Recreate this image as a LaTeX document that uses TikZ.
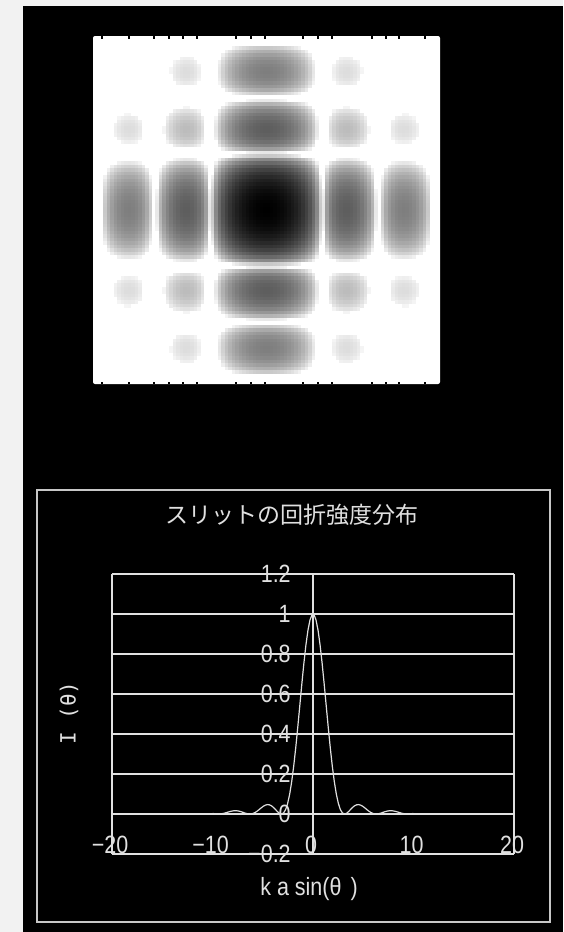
\documentclass[tikz,border=0pt]{standalone}
\usepackage{fontspec}
\newfontfamily\jpfont{Noto Sans CJK JP}
\newfontfamily\numfont[FakeStretch=0.86]{Liberation Sans}
\newfontfamily\labfont{DejaVu Sans Mono}
\definecolor{fg}{gray}{0.88}
\definecolor{framegray}{gray}{0.78}
\definecolor{paper}{gray}{0.95}

\begin{document}
\begin{tikzpicture}[x=1pt, y=-1pt,
    gridline/.style = {fg, line width=1.5pt},
    curveline/.style = {fg, line width=1.2pt},
    numlabel/.style = {fg, inner sep=0pt, font=\numfont\fontsize{25}{25}\selectfont},
    edgetick/.style = {black, line width=1.3pt}]
  \useasboundingbox (0,0) rectangle (563,932);
  % Background
  \fill[paper] (0,0) rectangle (563,932);
  \fill[black] (23,6) rectangle (563,932);
  % Diffraction image
  \fill[white, rounded corners=2pt] (93,36) rectangle (440,384);
  \foreach \i in {0,...,99}{
    \pgfmathsetmacro\u{-9.75+(\i+0.5)*0.195}
    \pgfmathsetmacro\g{abs(\u)>9.42 ? 99 : -2*(ln(max(abs(sin(\u r)),0.0001))-ln(abs(\u)))/ln(10)}
    \expandafter\xdef\csname gv\i\endcsname{\g}
  }
  \foreach \i in {0,...,99}{
    \edef\gx{\csname gv\i\endcsname}
    \foreach \j in {0,...,99}{
      \edef\gy{\csname gv\j\endcsname}
      \pgfmathsetmacro\dk{100*(1-(\gx+\gy)/3.6)}
      \ifdim\dk pt>4pt
        \fill[black!\dk] (93+\i*3.47,36+\j*3.48) rectangle ++(3.55,3.56);
      \fi
    }
  }
  \foreach \t in {102,129,154,169,183,197,236,251,265,303,318,332,372,386,399,425}{
    \draw[edgetick] (\t,36) -- (\t,38.5);
    \draw[edgetick] (\t,384) -- (\t,381.5);
  }
  % Intensity plot
  \draw[framegray, line width=1.6pt] (37,490) rectangle (550,922);
  \node[fg, font=\jpfont\fontsize{23}{23}\selectfont] (title) at (292,515) {スリットの回折強度分布};
  \begin{scope}[shift={(313,814)}, x=10.05pt, y=200pt]
    \foreach \v in {-0.2,0,0.2,0.4,0.6,0.8,1,1.2}
      \draw[gridline] (-20,\v) -- (20,\v);
    \foreach \v in {-20,0,20}
      \draw[gridline] (\v,-0.2) -- (\v,1.2);
    \draw[curveline] plot[domain=-10:10, samples=100] (\x, {(sin(\x r))^2/((\x)*(\x))});
    \foreach \v/\t [count=\k] in {-0.2/−0.2, 0/0, 0.2/0.2, 0.4/0.4, 0.6/0.6, 0.8/0.8, 1/1, 1.2/1.2}
      \node[numlabel, anchor=east] (ylab\k) at (-2.2,\v) {\t};
    \foreach \v/\t [count=\k] in {-20/−20, -10/−10, 0/0, 10/10, 20/20}
      \node[numlabel, anchor=base, xshift=-2pt, yshift=1pt] (xlab\k) at (\v,-0.2) {\t};
  \end{scope}
  \node[numlabel] (xtitle) at (309,889) {k a sin(θ\kern9pt)};
  \node[fg, rotate=90, font=\labfont\fontsize{21}{21}\selectfont] (ytitle) at (69,713) {I (θ)};
\end{tikzpicture}
\end{document}
